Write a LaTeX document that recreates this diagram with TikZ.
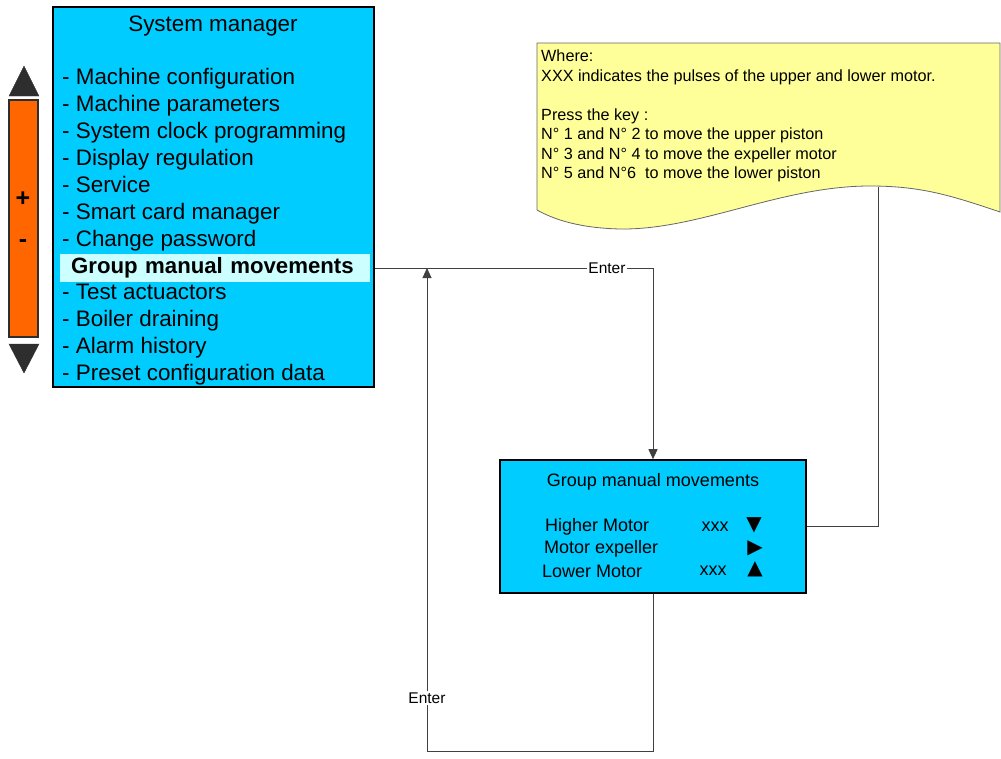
\documentclass[tikz,border=0pt]{standalone}
\usepackage{fontspec}
\setmainfont{Liberation Sans}
\newfontfamily\symfont{DejaVu Sans}
\usetikzlibrary{arrows.meta, positioning}
\definecolor{screenblue}{HTML}{00CCFF}
\definecolor{selcyan}{HTML}{CCFFFF}
\definecolor{barorange}{HTML}{FF6600}
\definecolor{notebg}{HTML}{FFFF99}
\definecolor{keygray}{HTML}{2E2E2E}

\tikzset{
  screen/.style={draw=black, line width=1.6pt, fill=screenblue, inner sep=0pt},
  menuitem/.style={anchor=west, inner sep=0pt, text height=14pt, text depth=4pt,
    font=\fontsize{22.4}{23}\selectfont},
  selbar/.style={fill=selcyan, anchor=west, text width=288pt, align=left,
    inner xsep=11pt, inner ysep=0pt, minimum height=28pt,
    font=\fontsize{22.2}{23}\selectfont\bfseries},
  rowtext/.style={anchor=west, inner sep=0pt, font=\fontsize{18}{18}\selectfont},
  notetext/.style={anchor=north west, inner sep=0pt, align=left,
    font=\fontsize{16.2}{19.5}\selectfont},
  lbl/.style={inner sep=1pt, fill=white, font=\fontsize{15.5}{16}\selectfont},
  link/.style={draw=black!75, line width=0.9pt},
  arrowlink/.style={link, -{Triangle[width=9pt,length=10pt]}}
}

\begin{document}
\begin{tikzpicture}[x=1pt, y=-1pt]
  \useasboundingbox (0,0) rectangle (1001,758);

  %--- Scroll bar ---
  \draw[keygray, fill=barorange, line width=1.5pt] (9,100) rectangle (38,337);
  \filldraw[keygray] (24,66) -- (39,96) -- (9,96) -- cycle;
  \filldraw[keygray] (9,344) -- (39,344) -- (24,373) -- cycle;
  \node[font=\fontsize{25}{25}\selectfont\bfseries] (plus) at (23,199) {+};
  \node[font=\fontsize{25}{25}\selectfont\bfseries] (minus) at (23,244) {-};

  %--- System manager menu ---
  \node[screen, minimum width=321pt, minimum height=380pt] (sysman) at (213.5,197) {};
  \node[font=\fontsize{22.4}{23}\selectfont] (systitle) at (213,26) {System manager};
  \foreach \txt [count=\i] in {Machine configuration, Machine parameters,
      System clock programming, Display regulation, Service, Smart card manager,
      Change password}
    \node[menuitem] (item\i) at (62,{79.5+27*(\i-1)}) {- \txt};
  \node[selbar] (sel) at (60,268) {Group manual movements};
  \foreach \txt [count=\i from 9] in {Test actuactors, Boiler draining,
      Alarm history, Preset configuration data}
    \node[menuitem] (item\i) at (62,{78.5+27*(\i-1)}) {- \txt};

  %--- Note ---
  \draw[draw=black!60, fill=notebg, line width=0.8pt] (537,43) -- (1000,43) -- (1000,212)
    .. controls (950,195) and (920,186) .. (870,186)
    .. controls (780,186) and (700,230) .. (620,229)
    .. controls (580,228) and (555,220) .. (537,210) -- cycle;
  \node[notetext] (notetxt) at (541,50) {Where:\\
    XXX indicates the pulses of the upper and lower motor.\\[19.5pt]
    Press the key :\\
    N° 1 and N° 2 to move the upper piston\\
    N° 3 and N° 4 to move the expeller motor\\
    N° 5 and N°6~~to move the lower piston};
  \coordinate (notefoot) at (878,187);

  %--- Group manual movements screen ---
  \node[screen, minimum width=306pt, minimum height=133pt] (gmm) at (653,526.5) {};
  \node[font=\fontsize{18}{18}\selectfont] (gmmtitle) at (653,482) {Group manual movements};
  \node[rowtext] (higher) at (545,527) {Higher Motor};
  \node[rowtext] (expeller) at (544,549) {Motor expeller};
  \node[rowtext] (lower) at (542,571) {Lower Motor};
  \node[rowtext, anchor=center] (xxxhigh) at (715,527) {xxx};
  \node[rowtext, anchor=center] (xxxlow) at (713,571) {xxx};
  \node[inner sep=0pt, font=\symfont\fontsize{20}{20}\selectfont] (down) at (754,525) {▼};
  \node[inner sep=0pt, font=\symfont\fontsize{20}{20}\selectfont] (right) at (755,548) {▶};
  \node[inner sep=0pt, font=\symfont\fontsize{20}{20}\selectfont] (up) at (755,569) {▲};

  %--- Connectors ---
  \node[lbl] (enterin) at (607,268) {Enter};
  \node[lbl] (enterout) at (427,698) {Enter};
  \coordinate (loopfoot) at (427,751);
  \draw[link] (sel -| sysman.east) -- (enterin);
  \draw[arrowlink] (enterin) -| (gmm.north);
  \draw[link] (gmm.south) |- (loopfoot) -- (enterout);
  \draw[arrowlink] (enterout) -- (enterout |- sel);
  \draw[link] (notefoot) |- (gmm.east);
\end{tikzpicture}
\end{document}
